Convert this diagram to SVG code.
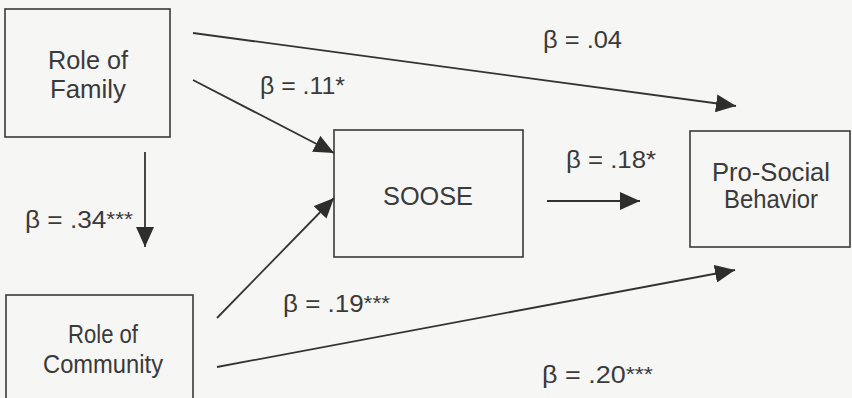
<svg xmlns="http://www.w3.org/2000/svg" width="852" height="398" viewBox="0 0 852 398">
<defs>
<marker id="ah" viewBox="0 0 20 18" refX="20" refY="9" markerWidth="20" markerHeight="18" markerUnits="userSpaceOnUse" orient="auto">
<path d="M0,0 L20,9 L0,18 Z" fill="#2e2e2e"/>
</marker>
</defs>
<style>
.box{fill:none;stroke:#3a3a3a;stroke-width:1.6}
.t{font-family:"Liberation Sans",Arial,sans-serif;font-size:25px;fill:#3a3a3a;text-anchor:middle}
.l{font-family:"Liberation Sans",Arial,sans-serif;font-size:23px;fill:#3a3a3a}
.s{font-size:20px}
.c{fill:none;stroke:#333;stroke-width:1.8;marker-end:url(#ah)}
</style>
<rect width="852" height="398" fill="#f6f6f4"/>
<g id="family">
<rect class="box" x="5" y="9" width="165" height="128"/>
<text class="t" x="88" y="69" textLength="80" lengthAdjust="spacingAndGlyphs">Role of</text>
<text class="t" x="88" y="98" textLength="76" lengthAdjust="spacingAndGlyphs">Family</text>
</g>
<g id="soose">
<rect class="box" x="334" y="130" width="189" height="127"/>
<text class="t" x="428" y="205" textLength="90" lengthAdjust="spacingAndGlyphs">SOOSE</text>
</g>
<g id="prosocial">
<rect class="box" x="690" y="131" width="160" height="116"/>
<text class="t" x="771" y="181" textLength="118" lengthAdjust="spacingAndGlyphs">Pro-Social</text>
<text class="t" x="771" y="208" textLength="94" lengthAdjust="spacingAndGlyphs">Behavior</text>
</g>
<g id="community">
<rect class="box" x="6" y="295" width="187" height="110"/>
<text class="t" x="103" y="343" textLength="70" lengthAdjust="spacingAndGlyphs">Role of</text>
<text class="t" x="103" y="373" textLength="120" lengthAdjust="spacingAndGlyphs">Community</text>
</g>
<g id="connectors">
<line class="c" x1="193" y1="33" x2="736" y2="106"/>
<line class="c" x1="193" y1="80" x2="334" y2="153"/>
<line class="c" x1="145" y1="152" x2="145" y2="247"/>
<line class="c" x1="217" y1="318" x2="334" y2="198"/>
<line class="c" x1="547" y1="201" x2="640" y2="201"/>
<line class="c" x1="217" y1="367" x2="735" y2="270"/>
</g>
<g id="labels">
<text class="l" x="543" y="48" textLength="79" lengthAdjust="spacingAndGlyphs">β = .04</text>
<text class="l" x="260" y="94" textLength="85" lengthAdjust="spacingAndGlyphs">β = .11*</text>
<text class="l" x="566" y="168" textLength="90" lengthAdjust="spacingAndGlyphs">β = .18*</text>
<text class="l" x="25" y="228" textLength="108" lengthAdjust="spacingAndGlyphs">β = .34<tspan class="s" dy="-2">***</tspan></text>
<text class="l" x="283" y="312" textLength="107" lengthAdjust="spacingAndGlyphs">β = .19<tspan class="s" dy="-2">***</tspan></text>
<text class="l" x="542" y="383" textLength="111" lengthAdjust="spacingAndGlyphs">β = .20<tspan class="s" dy="-2">***</tspan></text>
</g>
</svg>
